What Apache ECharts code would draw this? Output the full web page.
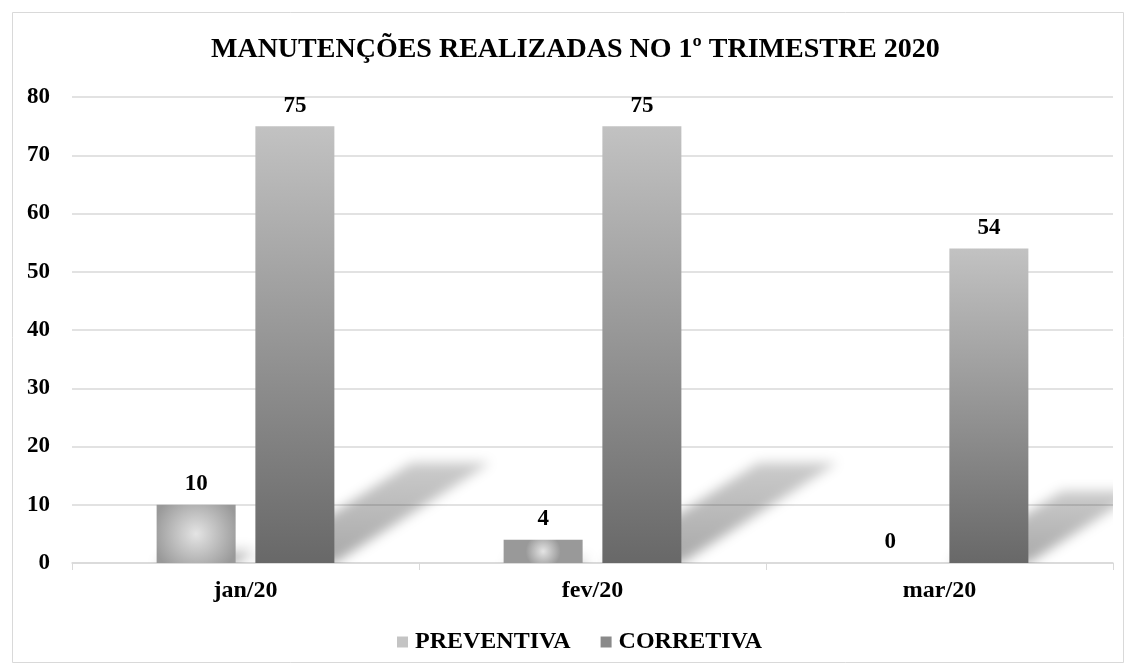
<!DOCTYPE html>
<html>
<head>
<meta charset="utf-8">
<script src="https://cdn.jsdelivr.net/npm/echarts@6/dist/echarts.min.js"></script>
<style>
html,body{margin:0;padding:0;background:#fff;}
#c{width:1131px;height:670px;}
</style>
</head>
<body>
<div id="c"></div>
<script>
const categories = ['jan/20', 'fev/20', 'mar/20'];
const preventiva = [10, 4, 0];
const corretiva = [75, 75, 54];
const yTicks = [0, 10, 20, 30, 40, 50, 60, 70, 80];

const font = '"Liberation Serif", "Times New Roman", serif';
const BAR_W = 79, BAR_GAP = 20;
const chart = echarts.init(document.getElementById('c'));
const prevColor = new echarts.graphic.RadialGradient(0.5, 0.5, 0.75, [
  {offset: 0, color: '#e4e4e4'},
  {offset: 1, color: '#999999'}
]);
const corrColor = new echarts.graphic.LinearGradient(0, 0, 0, 1, [
  {offset: 0, color: '#c2c2c2'},
  {offset: 1, color: '#686868'}
]);

// shadow data: [categoryIndex, value, seriesSide(-1 preventiva, +1 corretiva)]
const shadowData = [];
categories.forEach((c, i) => {
  shadowData.push([i, preventiva[i], -1]);
  shadowData.push([i, corretiva[i], 1]);
});

function renderShadow(params, api) {
  const idx = api.value(0), val = api.value(1), side = api.value(2);
  if (!val) return;
  const base = api.coord([idx, 0]);
  const top = api.coord([idx, val]);
  const cx = base[0] + side * (BAR_W + BAR_GAP) / 2;
  const x0 = cx - BAR_W / 2;
  const y0 = base[1];
  const h = 0.23 * (y0 - top[1]);
  const shift = 1.55 * h;
  const OFF = 3000;
  return {
    type: 'polygon',
    shape: {points: [
      [x0 - OFF, y0], [x0 + BAR_W - OFF, y0],
      [x0 + BAR_W + shift - OFF, y0 - h], [x0 + shift - OFF, y0 - h]
    ]},
    style: {
      fill: new echarts.graphic.LinearGradient(0, 1, 0, 0, [
        {offset: 0, color: 'rgba(0,0,0,1)'},
        {offset: 1, color: 'rgba(0,0,0,0.6)'}
      ]),
      shadowColor: 'rgba(0,0,0,0.34)',
      shadowBlur: 12,
      shadowOffsetX: OFF,
      shadowOffsetY: 0
    }
  };
}

chart.setOption({
  backgroundColor: '#fff',
  animation: false,
  graphic: [{
    type: 'rect', left: 10, top: 10,
    shape: {width: 1111, height: 650},
    style: {fill: 'none', stroke: '#d9d9d9', lineWidth: 1}
  }],
  title: {
    text: 'MANUTENÇÕES REALIZADAS NO 1º TRIMESTRE 2020',
    left: 206, top: 31,
    textStyle: {fontFamily: font, fontWeight: 'bold', fontSize: 28, color: '#000'}
  },
  legend: {
    top: 625, left: 392,
    itemWidth: 11, itemHeight: 11, itemGap: 30,
    textStyle: {fontFamily: font, fontWeight: 'bold', fontSize: 24, color: '#000', padding: [0, 0, 0, 2]},
    data: [
      {name: 'PREVENTIVA', icon: 'rect', itemStyle: {color: '#c4c4c4'}},
      {name: 'CORRETIVA', icon: 'rect', itemStyle: {color: '#8a8a8a'}}
    ]
  },
  grid: {left: 72, right: 18, top: 97, bottom: 107},
  xAxis: {
    type: 'category', data: categories,
    axisLine: {lineStyle: {color: '#d9d9d9', width: 1.5}},
    axisTick: {show: true, length: 7, lineStyle: {color: '#d9d9d9'}},
    axisLabel: {fontFamily: font, fontWeight: 'bold', fontSize: 24, color: '#000', margin: 16}
  },
  yAxis: {
    type: 'value', min: yTicks[0], max: yTicks[yTicks.length - 1], interval: 10,
    axisLine: {show: false}, axisTick: {show: false},
    splitLine: {lineStyle: {color: '#d9d9d9', width: 1.5}},
    axisLabel: {fontFamily: font, fontWeight: 'bold', fontSize: 23, color: '#000', margin: 22}
  },
  series: [
    {
      name: 'shadow', type: 'custom', data: shadowData, renderItem: renderShadow,
      clip: true, z: 1, silent: true, legendHoverLink: false,
      encode: {x: 0, y: 1}
    },
    {
      name: 'PREVENTIVA', type: 'bar', data: preventiva, z: 3,
      barWidth: BAR_W, barGap: '25%',
      itemStyle: {color: prevColor},
      label: {show: true, position: 'top', distance: 9,
        fontFamily: font, fontWeight: 'bold', fontSize: 23, color: '#000'}
    },
    {
      name: 'CORRETIVA', type: 'bar', data: corretiva, z: 3,
      barWidth: BAR_W,
      itemStyle: {color: corrColor},
      label: {show: true, position: 'top', distance: 9,
        fontFamily: font, fontWeight: 'bold', fontSize: 23, color: '#000'}
    }
  ]
});
</script>
</body>
</html>
